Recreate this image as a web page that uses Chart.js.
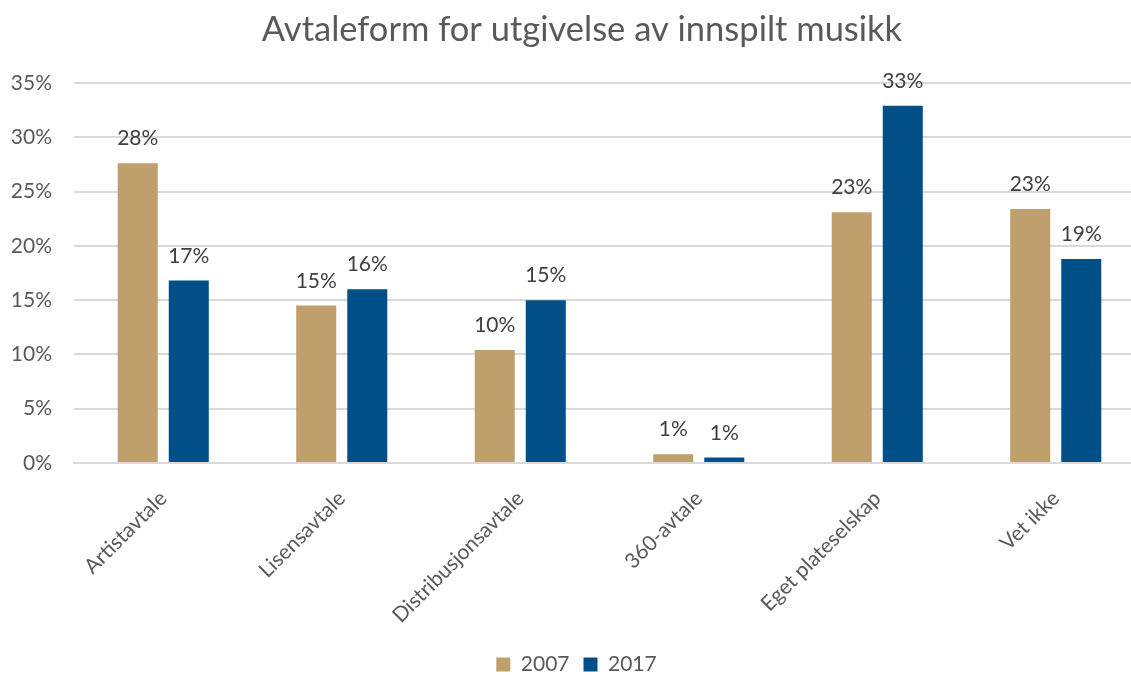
<!DOCTYPE html>
<html>
<head>
<meta charset="utf-8">
<script src="https://cdn.jsdelivr.net/npm/chart.js@4/dist/chart.umd.min.js"></script>
<style>
  html, body { margin: 0; padding: 0; background: #ffffff; }
  #frame { width: 1131px; height: 675px; overflow: hidden; position: relative; }
  #wrap { width: 1145px; height: 675px; position: relative; }
</style>
</head>
<body>
<div id="frame"><div id="wrap"><canvas id="c"></canvas></div></div>
<script>
// Agreement types for releases of recorded music, share of respondents
const categories = ['Artistavtale', 'Lisensavtale', 'Distribusjonsavtale', '360-avtale', 'Eget plateselskap', 'Vet ikke'];
const values2007 = [27.6, 14.5, 10.4, 0.8, 23.1, 23.4];
const values2017 = [16.8, 16.0, 15.0, 0.5, 32.9, 18.8];
const seriesNames = ['2007', '2017'];
const yTicks = [0, 5, 10, 15, 20, 25, 30, 35];
const chartTitle = 'Avtaleform for utgivelse av innspilt musikk';

const FONT = 'Lato, "Open Sans", sans-serif';

// Value labels above each bar
const barLabels = {
  id: 'barLabels',
  afterDatasetsDraw(chart) {
    const ctx = chart.ctx;
    ctx.save();
    ctx.font = '21px ' + FONT;
    ctx.fillStyle = '#404040';
    ctx.textAlign = 'center';
    ctx.textBaseline = 'alphabetic';
    chart.data.datasets.forEach((ds, i) => {
      chart.getDatasetMeta(i).data.forEach((bar, j) => {
        ctx.fillText(Math.round(ds.data[j]) + '%', bar.x, bar.y - 18);
      });
    });
    ctx.restore();
  }
};

// Heading, placed in the space kept free by the top layout padding
const heading = {
  id: 'heading',
  afterDraw(chart) {
    const ctx = chart.ctx;
    ctx.save();
    ctx.font = '34.5px ' + FONT;
    ctx.fillStyle = '#595959';
    ctx.textAlign = 'center';
    ctx.textBaseline = 'middle';
    ctx.fillText(chartTitle, 582, 30);
    ctx.restore();
  }
};

new Chart(document.getElementById('c'), {
  type: 'bar',
  data: {
    labels: categories,
    datasets: [
      { label: seriesNames[0], data: values2007, backgroundColor: '#bf9f6b', categoryPercentage: 0.572, barPercentage: 0.784 },
      { label: seriesNames[1], data: values2017, backgroundColor: '#004f88', categoryPercentage: 0.572, barPercentage: 0.784 }
    ]
  },
  options: {
    responsive: true,
    maintainAspectRatio: false,
    animation: false,
    layout: { padding: { left: 8, right: 0, top: 83, bottom: -10 } },
    plugins: {
      title: { display: false },
      legend: {
        position: 'bottom',
        fullSize: true,
        labels: {
          color: '#595959',
          font: { family: FONT, size: 21 },
          boxWidth: 14,
          boxHeight: 14,
          padding: 14
        }
      },
      tooltip: { enabled: false }
    },
    scales: {
      x: {
        afterFit(axis) { axis.height = 177; },
        grid: { display: false },
        border: { display: true, color: '#d9d9d9', width: 2 },
        ticks: {
          color: '#595959',
          font: { family: FONT, size: 21 },
          minRotation: 45,
          maxRotation: 45,
          padding: 15
        }
      },
      y: {
        min: 0,
        max: 35,
        afterBuildTicks(axis) { axis.ticks = yTicks.map(v => ({ value: v })); },
        afterFit(axis) { axis.width = 66; },
        grid: { color: '#d9d9d9', lineWidth: 2, drawTicks: false },
        border: { display: false },
        ticks: {
          color: '#595959',
          font: { family: FONT, size: 21 },
          padding: 22,
          callback: v => v + '%'
        }
      }
    }
  },
  plugins: [barLabels, heading]
});
</script>
</body>
</html>
